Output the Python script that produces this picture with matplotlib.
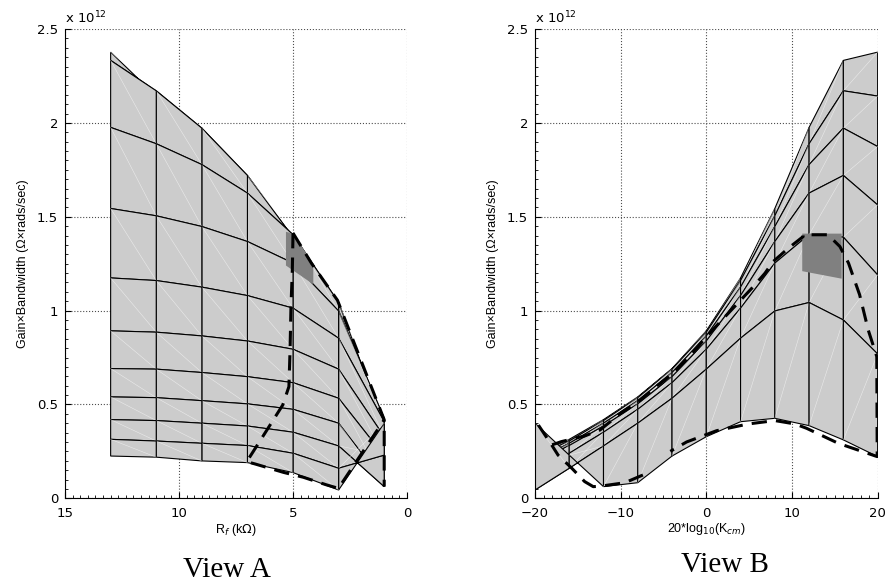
import matplotlib
matplotlib.use('Agg')
import matplotlib.pyplot as plt
from matplotlib.patches import Polygon
from matplotlib.ticker import MultipleLocator

# grid of the surface: feedback resistor (kOhm) x common-mode gain (dB)
rf_kohm = [1, 3, 5, 7, 9, 11, 13]
kcm_db = [-20, -16, -12, -8, -4, 0, 4, 8, 12, 16, 20]

# gain x bandwidth (x 1e12 ohm rad/s), one list per Rf, ordered like kcm_db
gbw_rf1 = [0.400, 0.230, 0.062, 0.083, 0.225, 0.328, 0.408, 0.426, 0.387, 0.311, 0.222]
gbw_rf3 = [0.044, 0.160, 0.279, 0.400, 0.533, 0.688, 0.853, 0.998, 1.043, 0.950, 0.769]
gbw_rf5 = [0.137, 0.240, 0.352, 0.474, 0.616, 0.794, 1.013, 1.253, 1.405, 1.391, 1.190]
gbw_rf7 = [0.190, 0.281, 0.385, 0.503, 0.648, 0.838, 1.080, 1.368, 1.626, 1.720, 1.563]
gbw_rf9 = [0.199, 0.293, 0.400, 0.520, 0.670, 0.865, 1.125, 1.448, 1.778, 1.972, 1.874]
gbw_rf11 = [0.219, 0.305, 0.414, 0.536, 0.688, 0.885, 1.160, 1.505, 1.889, 2.171, 2.143]
gbw_rf13 = [0.225, 0.314, 0.419, 0.540, 0.691, 0.892, 1.174, 1.544, 1.976, 2.333, 2.377]
gbw = [gbw_rf1, gbw_rf3, gbw_rf5, gbw_rf7, gbw_rf9, gbw_rf11, gbw_rf13]

# feasible-region boundary, as seen in each view (nan = hidden part)
nan = float('nan')
bound_a1_rf = [5.0, 4.18, 3.05, 1.0, 1.0]
bound_a1_g = [1.413, 1.25, 1.055, 0.418, 0.062]
bound_a2_rf = [5.0, 5.03, 5.09, 5.13, 5.18, 5.45, 6.42, 7.03, 6.67, 5.42, 4.55, 3.52, 3.01, 1.0]
bound_a2_g = [1.413, 1.217, 1.02, 0.79, 0.595, 0.497, 0.311, 0.195, 0.183, 0.138, 0.112, 0.071, 0.053, 0.418]
bound_b_k = [-19.6, -18.05, -16.9, -14.2, -12.4, -10.1, -7.7, -5.6, -3.85, -1.1, 0, 5.5, 6.85, 7.8,
             9.6, 11.3, 11.3, 14.2, 15.6, 16.6, 17.9, 18.9, 19.9, 19.95, 15.4, 11.7, 10.35, 8.0, 4.9,
             1.2, -2.3, -4.2, nan, -7.4, -9.5, -12.4, -13.2, -14.2, -15.7, -17.3, -18.05]
bound_b_g = [0.39, 0.284, 0.302, 0.332, 0.364, 0.449, 0.524, 0.604, 0.666, 0.80, 0.861, 1.128, 1.199,
             1.261, 1.333, 1.394, 1.404, 1.404, 1.341, 1.253, 1.084, 0.897, 0.755, 0.222, 0.293, 0.373,
             0.396, 0.414, 0.396, 0.36, 0.30, 0.25, nan, 0.124, 0.083, 0.064, 0.062, 0.089, 0.16, 0.23, 0.284]

# chosen design region
patch_a_rf = [5.31, 5.0, 4.11, 4.11, 5.31]
patch_a_g = [1.42, 1.41, 1.25, 1.14, 1.24]
patch_b_k = [11.2, 15.8, 15.8, 11.2]
patch_b_g = [1.41, 1.41, 1.17, 1.21]

plt.rcParams['font.family'] = 'DejaVu Sans'


def draw_surface(ax, view):
    # painter's order: farthest strip first
    cells = []
    if view == 'A':
        for j in reversed(range(len(kcm_db) - 1)):
            for i in range(len(rf_kohm) - 1):
                cells.append((i, j))
        xof = lambda i, j: rf_kohm[i]
    else:
        for i in reversed(range(len(rf_kohm) - 1)):
            for j in range(len(kcm_db) - 1):
                cells.append((i, j))
        xof = lambda i, j: kcm_db[j]
    z = 1.0
    for i, j in cells:
        corners = [(i, j), (i + 1, j), (i + 1, j + 1), (i, j + 1)]
        pts = [(xof(a, b), gbw[a][b]) for a, b in corners]
        ax.add_patch(Polygon(pts, closed=True, fc='#cccccc', ec='black', lw=0.8, zorder=z))
        ax.plot([xof(i, j), xof(i + 1, j + 1)], [gbw[i][j], gbw[i + 1][j + 1]],
                color='white', lw=0.4, alpha=0.6, zorder=z)
        z += 0.012


fig = plt.figure(figsize=(8.91, 5.88), dpi=100)
axA = fig.add_axes([0.073, 0.1526, 0.3838, 0.798])
axB = fig.add_axes([0.6004, 0.1526, 0.3846, 0.798])

draw_surface(axA, 'A')
axA.fill(patch_a_rf, patch_a_g, color='#808080', lw=0, zorder=9)
axA.plot(bound_a1_rf, bound_a1_g, color='black', lw=2.2, ls=(0, (5, 3)), zorder=10)
axA.plot(bound_a2_rf, bound_a2_g, color='black', lw=2.2, ls=(0, (5, 3)), zorder=10)
axA.set_xlim(15, 0)
axA.set_xticks([15, 10, 5, 0])
axA.xaxis.set_minor_locator(MultipleLocator(1 / 3))
axA.set_xlabel('R$_f$ (k$\\Omega$)', family='Liberation Sans', fontsize=9, labelpad=2)

draw_surface(axB, 'B')
axB.fill(patch_b_k, patch_b_g, color='#808080', lw=0, zorder=9)
axB.plot(bound_b_k, bound_b_g, color='black', lw=2.2, ls=(0, (5, 3)), zorder=10)
axB.set_xlim(-20, 20)
axB.set_xticks([-20, -10, 0, 10, 20])
axB.xaxis.set_minor_locator(MultipleLocator(1))
axB.set_xlabel('20*log$_{10}$(K$_{cm}$)', family='Liberation Sans', fontsize=9, labelpad=1)

for ax in (axA, axB):
    ax.set_ylim(0, 2.5)
    ax.set_yticks([0, 0.5, 1, 1.5, 2, 2.5])
    ax.set_yticklabels(['0', '0.5', '1', '1.5', '2', '2.5'])
    ax.yaxis.set_minor_locator(MultipleLocator(0.05))
    ax.set_axisbelow(True)
    ax.grid(True, ls=':', color='0.3', lw=0.8)
    ax.spines['top'].set_visible(False)
    ax.spines['right'].set_visible(False)
    ax.tick_params(which='both', direction='in', labelsize=9.5)
    ax.tick_params(axis='x', pad=6)
    ax.tick_params(axis='y', pad=5)
    ax.tick_params(which='major', length=4)
    ax.tick_params(which='minor', length=2)
    ax.set_ylabel('Gain\u00d7Bandwidth (\u03a9\u00d7rads/sec)', family='Liberation Sans', fontsize=9, labelpad=6)
    ax.text(0, 1.006, 'x 10$^{12}$', transform=ax.transAxes, ha='left', va='bottom', fontsize=9.5)

fig.text(0.255, 0.030, 'View A', family='Liberation Serif', fontsize=21, ha='center', va='center')
fig.text(0.814, 0.039, 'View B', family='Liberation Serif', fontsize=21, ha='center', va='center')

fig.savefig('out.png', dpi=100)
